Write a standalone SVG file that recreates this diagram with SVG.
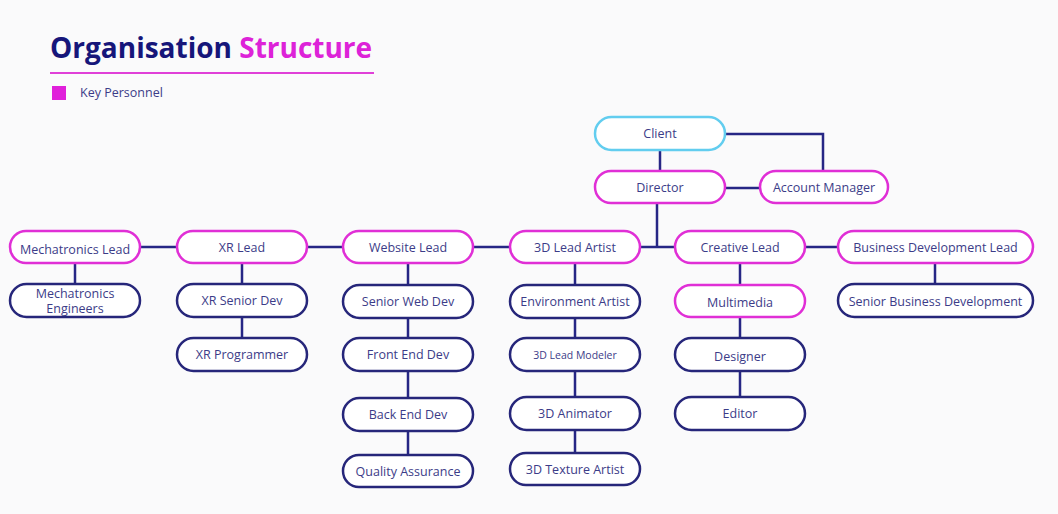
<svg xmlns="http://www.w3.org/2000/svg" width="1058" height="514" viewBox="0 0 1058 514">
<style>
.bg{fill:#fafafb}
.n rect{fill:#ffffff;stroke-width:2.5}
.k rect{stroke:#e02fd6}
.s rect{stroke:#26267a}
.c rect{stroke:#62cdef}
.n text{font-family:"Open Sans","Liberation Sans",sans-serif;font-size:12.5px;fill:#3c3c88;text-anchor:middle;dominant-baseline:central}
#connectors path{fill:none;stroke:#262685;stroke-width:2.5}
</style>
<rect class="bg" width="1058" height="514"/>
<g id="title">
<text x="50" y="58" font-family="'Open Sans','Liberation Sans',sans-serif" font-weight="bold" font-size="28" fill="#16167a">Organisation <tspan fill="#dd22d8">Structure</tspan></text>
<line x1="50" y1="73" x2="374" y2="73" stroke="#e040d8" stroke-width="2"/>
<rect x="52" y="86" width="14" height="14" fill="#e020da"/>
<text x="80" y="97" font-family="'Open Sans','Liberation Sans',sans-serif" font-size="12.5" fill="#3c3c88">Key Personnel</text>
</g>
<g id="connectors">
<path d="M660 150V171"/>
<path d="M725 134H823V171"/>
<path d="M725 188H760"/>
<path d="M657 203V247"/>
<path d="M140 247H177M307 247H343M473 247H510M640 247H675M805 247H838"/>
<path d="M75 263V284"/>
<path d="M242 263V284M242 317V338"/>
<path d="M408 263V285M408 318V338M408 371V398M408 431V455"/>
<path d="M575 263V285M575 318V338M575 371V397M575 430V453"/>
<path d="M740 263V285M740 317V338M740 371V397"/>
<path d="M935 263V284"/>
</g>
<g id="client" class="n c"><rect x="595" y="117" width="130" height="33" rx="16.5"/><text x="660" y="133.5">Client</text></g>
<g id="director" class="n k"><rect x="595" y="171" width="130" height="32" rx="16"/><text x="660" y="187">Director</text></g>
<g id="account-manager" class="n k"><rect x="760" y="171" width="128" height="32" rx="16"/><text x="824" y="187">Account Manager</text></g>
<g id="mechatronics-lead" class="n k"><rect x="10" y="231" width="130" height="32" rx="16"/><text x="75" y="249">Mechatronics Lead</text></g>
<g id="xr-lead" class="n k"><rect x="177" y="231" width="130" height="32" rx="16"/><text x="242" y="247">XR Lead</text></g>
<g id="website-lead" class="n k"><rect x="343" y="231" width="130" height="32" rx="16"/><text x="408" y="247">Website Lead</text></g>
<g id="3d-lead-artist" class="n k"><rect x="510" y="231" width="130" height="32" rx="16"/><text x="575" y="247">3D Lead Artist</text></g>
<g id="creative-lead" class="n k"><rect x="675" y="231" width="130" height="32" rx="16"/><text x="740" y="247">Creative Lead</text></g>
<g id="business-development-lead" class="n k"><rect x="838" y="231" width="195" height="32" rx="16"/><text x="935.5" y="247">Business Development Lead</text></g>
<g id="mechatronics-engineers" class="n s"><rect x="10" y="284" width="130" height="33" rx="16.5"/><text x="75" y="293">Mechatronics</text><text x="75" y="308">Engineers</text></g>
<g id="xr-senior-dev" class="n s"><rect x="177" y="284" width="130" height="33" rx="16.5"/><text x="242" y="300.5">XR Senior Dev</text></g>
<g id="xr-programmer" class="n s"><rect x="177" y="338" width="130" height="33" rx="16.5"/><text x="242" y="354.5">XR Programmer</text></g>
<g id="senior-web-dev" class="n s"><rect x="343" y="285" width="130" height="33" rx="16.5"/><text x="408" y="301.5">Senior Web Dev</text></g>
<g id="front-end-dev" class="n s"><rect x="343" y="338" width="130" height="33" rx="16.5"/><text x="408" y="354.5">Front End Dev</text></g>
<g id="back-end-dev" class="n s"><rect x="343" y="398" width="130" height="33" rx="16.5"/><text x="408" y="414.5">Back End Dev</text></g>
<g id="quality-assurance" class="n s"><rect x="343" y="455" width="130" height="32" rx="16"/><text x="408" y="471">Quality Assurance</text></g>
<g id="environment-artist" class="n s"><rect x="510" y="285" width="130" height="33" rx="16.5"/><text x="575" y="301.5">Environment Artist</text></g>
<g id="3d-lead-modeler" class="n s"><rect x="510" y="338" width="130" height="33" rx="16.5"/><text x="575" y="354.5" style="font-size:10.5px">3D Lead Modeler</text></g>
<g id="3d-animator" class="n s"><rect x="510" y="397" width="130" height="33" rx="16.5"/><text x="575" y="413.5">3D Animator</text></g>
<g id="3d-texture-artist" class="n s"><rect x="510" y="453" width="130" height="32" rx="16"/><text x="575" y="469">3D Texture Artist</text></g>
<g id="multimedia" class="n k"><rect x="675" y="285" width="130" height="32" rx="16"/><text x="740" y="302">Multimedia</text></g>
<g id="designer" class="n s"><rect x="675" y="338" width="130" height="33" rx="16.5"/><text x="740" y="356">Designer</text></g>
<g id="editor" class="n s"><rect x="675" y="397" width="130" height="33" rx="16.5"/><text x="740" y="413.5">Editor</text></g>
<g id="senior-business-development" class="n s"><rect x="838" y="284" width="195" height="33" rx="16.5"/><text x="935.5" y="301.5">Senior Business Development</text></g>
</svg>
